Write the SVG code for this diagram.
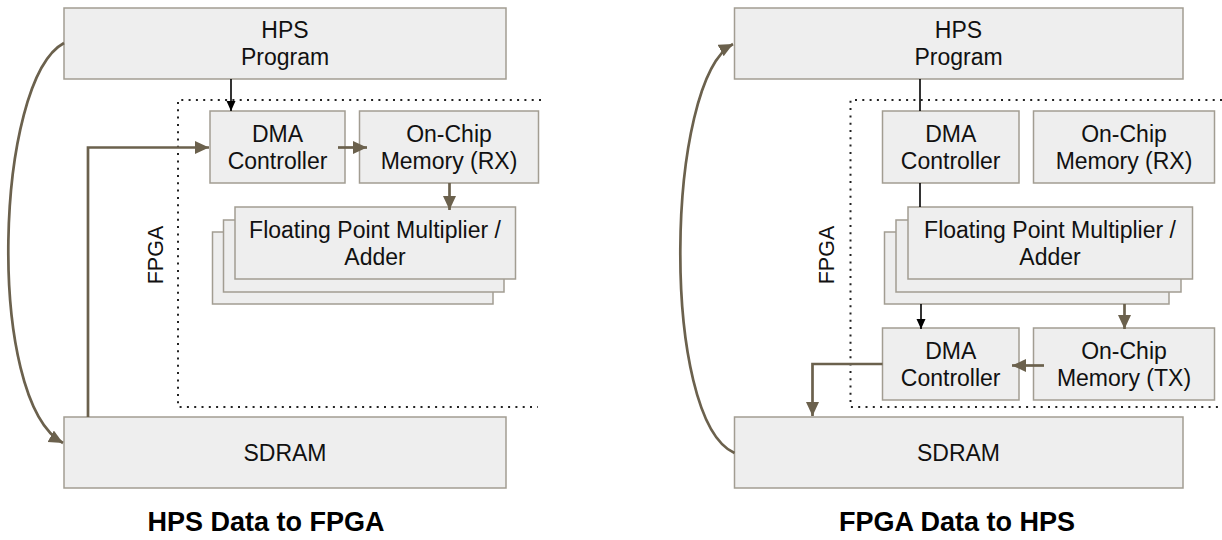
<svg xmlns="http://www.w3.org/2000/svg" width="1222" height="540" viewBox="0 0 1222 540">
<style>
.box{fill:#eeeeee;stroke:#a29d92;stroke-width:1.5}
.t{font-family:"Liberation Sans",Arial,sans-serif;font-size:23px;fill:#111;text-anchor:middle}
.lbl{font-family:"Liberation Sans",Arial,sans-serif;font-size:21.5px;fill:#111;text-anchor:middle}
.title{font-family:"Liberation Sans",Arial,sans-serif;font-size:27px;font-weight:bold;fill:#000;text-anchor:middle}
.dot{fill:none;stroke:#222;stroke-width:2;stroke-dasharray:2 5.3}
.br{fill:none;stroke:#6b614d;stroke-width:2.7}
.bk{fill:none;stroke:#000;stroke-width:1.6}
</style>
<defs>
<marker id="ab" markerUnits="userSpaceOnUse" markerWidth="16" markerHeight="14" refX="14" refY="6.5" orient="auto"><path d="M0,0 L14,6.5 L0,13 z" fill="#6b614d"/></marker>
<marker id="ak" markerUnits="userSpaceOnUse" markerWidth="12" markerHeight="10" refX="10" refY="4.5" orient="auto"><path d="M0,0 L10,4.5 L0,9 z" fill="#000"/></marker>
</defs>
<rect width="1222" height="540" fill="#ffffff"/>

<!-- FPGA regions -->
<g id="fpga-left">
<path class="dot" d="M541,100 H178 V407 H538"/>
<text class="lbl" transform="translate(163,255) rotate(-90)">FPGA</text>
</g>
<g id="fpga-right">
<path class="dot" d="M1222,100 H850.5 V407 H1222"/>
<text class="lbl" transform="translate(834,255) rotate(-90)">FPGA</text>
</g>

<!-- Left panel nodes -->
<g id="l-hps">
<rect class="box" x="64" y="8" width="442" height="71"/>
<text class="t" x="285" y="38">HPS</text>
<text class="t" x="285" y="65">Program</text>
</g>
<g id="l-dma">
<rect class="box" x="210" y="111" width="135" height="72"/>
<text class="t" x="277.5" y="141.5">DMA</text>
<text class="t" x="277.5" y="168.5">Controller</text>
</g>
<g id="l-ocm">
<rect class="box" x="359.5" y="111" width="179" height="72"/>
<text class="t" x="449" y="141.5">On-Chip</text>
<text class="t" x="449" y="168.5">Memory (RX)</text>
</g>
<g id="l-fp">
<rect class="box" x="212.5" y="232" width="280.5" height="72"/>
<rect class="box" x="223.5" y="220" width="280.5" height="72"/>
<rect class="box" x="235" y="207" width="280.5" height="72"/>
<text class="t" x="375" y="237.5">Floating Point Multiplier /</text>
<text class="t" x="375" y="264.5">Adder</text>
</g>
<g id="l-sdram">
<rect class="box" x="64" y="417" width="442" height="71"/>
<text class="t" x="285" y="460.5">SDRAM</text>
</g>

<!-- Right panel nodes -->
<g id="r-hps">
<rect class="box" x="734.5" y="8" width="448.5" height="71"/>
<text class="t" x="958.5" y="38">HPS</text>
<text class="t" x="958.5" y="65">Program</text>
</g>
<g id="r-dma1">
<rect class="box" x="882.5" y="111" width="136.5" height="72"/>
<text class="t" x="950.7" y="141.5">DMA</text>
<text class="t" x="950.7" y="168.5">Controller</text>
</g>
<g id="r-ocm-rx">
<rect class="box" x="1033.5" y="111" width="181" height="72"/>
<text class="t" x="1124" y="141.5">On-Chip</text>
<text class="t" x="1124" y="168.5">Memory (RX)</text>
</g>
<g id="r-fp">
<rect class="box" x="884.5" y="232" width="284.5" height="72"/>
<rect class="box" x="896" y="220" width="285" height="72"/>
<rect class="box" x="908" y="207" width="284.5" height="72"/>
<text class="t" x="1050" y="237.5">Floating Point Multiplier /</text>
<text class="t" x="1050" y="264.5">Adder</text>
</g>
<g id="r-dma2">
<rect class="box" x="882.5" y="328" width="136.5" height="72"/>
<text class="t" x="950.7" y="358.5">DMA</text>
<text class="t" x="950.7" y="385.5">Controller</text>
</g>
<g id="r-ocm-tx">
<rect class="box" x="1033.5" y="328" width="181" height="72"/>
<text class="t" x="1124" y="358.5">On-Chip</text>
<text class="t" x="1124" y="385.5">Memory (TX)</text>
</g>
<g id="r-sdram">
<rect class="box" x="734.5" y="417" width="448.5" height="71"/>
<text class="t" x="958.5" y="460.5">SDRAM</text>
</g>

<!-- Connectors -->
<g id="connectors">
<path class="bk" d="M231,79 V111" marker-end="url(#ak)"/>
<path class="br" d="M88,417 V147.5 H209" marker-end="url(#ab)"/>
<path class="br" d="M338,147.5 H367" marker-end="url(#ab)"/>
<path class="br" d="M449.5,183 V210" marker-end="url(#ab)"/>
<path class="br" d="M64,43 C -5,80 -15,400 63,443" marker-end="url(#ab)"/>

<path class="bk" d="M920,79 V111"/>
<path class="bk" d="M920,183 V207"/>
<path class="bk" d="M921,304 V329" marker-end="url(#ak)"/>
<path class="br" d="M1124.5,304 V329" marker-end="url(#ab)"/>
<path class="br" d="M1044,365.5 H1012" marker-end="url(#ab)"/>
<path class="br" d="M882.5,364 H812.5 V416" marker-end="url(#ab)"/>
<path class="br" d="M734.5,453 C 660,420 665,80 733,44" marker-end="url(#ab)"/>
</g>

<g id="titles">
<text class="title" x="266" y="531">HPS Data to FPGA</text>
<text class="title" x="957" y="531">FPGA Data to HPS</text>
</g>
</svg>
